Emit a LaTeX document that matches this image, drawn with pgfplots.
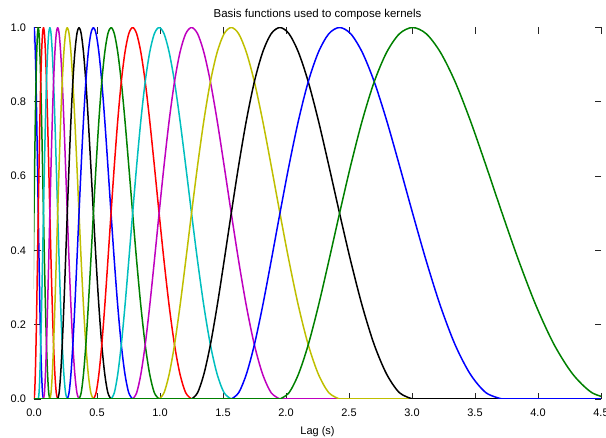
\documentclass[border=0pt]{standalone}
\usepackage{fontspec}
\setmainfont{Liberation Sans}
\usepackage{pgfplots}
\usepackage{pgfplotstable}
\pgfplotsset{compat=1.18}
\definecolor{mplb}{rgb}{0,0,1}
\definecolor{mplg}{rgb}{0,0.5,0}
\definecolor{mplr}{rgb}{1,0,0}
\definecolor{mplc}{rgb}{0,0.75,0.75}
\definecolor{mplm}{rgb}{0.75,0,0.75}
\definecolor{mply}{rgb}{0.75,0.75,0}
\definecolor{mplk}{rgb}{0,0,0}

% raised cosine bumps: one shared y column, lag values per basis function
\pgfplotstableread{
y     x0      x1      x2     x3     x4     x5     x6     x7     x8     x9     x10    x11    x12    x13    x14    x15
0     -0.0501 -0.0276 0      0.0338 0.0752 0.1258 0.1880 0.2641 0.3573 0.4715 0.6114 0.7829 0.9929 1.2503 1.5656 1.9519
0.017 -0.0466 -0.0234 0.0052 0.0401 0.0829 0.1353 0.1996 0.2783 0.3747 0.4929 0.6377 0.8150 1.0323 1.2985 1.6246 2.0242
0.067 -0.0431 -0.0190 0.0105 0.0466 0.0909 0.1452 0.2116 0.2931 0.3928 0.5150 0.6648 0.8482 1.0730 1.3484 1.6857 2.0991
0.146 -0.0394 -0.0145 0.0160 0.0534 0.0992 0.1553 0.2241 0.3083 0.4115 0.5379 0.6928 0.8826 1.1151 1.3999 1.7489 2.1765
0.25  -0.0356 -0.0098 0.0217 0.0604 0.1078 0.1658 0.2370 0.3241 0.4308 0.5616 0.7218 0.9181 1.1586 1.4533 1.8143 2.2566
0.371 -0.0316 -0.0050 0.0277 0.0677 0.1167 0.1767 0.2503 0.3404 0.4508 0.5861 0.7518 0.9549 1.2037 1.5085 1.8819 2.3394
0.5   -0.0276 0       0.0338 0.0752 0.1258 0.1880 0.2641 0.3573 0.4715 0.6114 0.7829 0.9929 1.2503 1.5656 1.9519 2.4251
0.629 -0.0234 0.0052  0.0401 0.0829 0.1353 0.1996 0.2783 0.3747 0.4929 0.6377 0.8150 1.0323 1.2985 1.6246 2.0242 2.5138
0.75  -0.0190 0.0105  0.0466 0.0909 0.1452 0.2116 0.2931 0.3928 0.5150 0.6648 0.8482 1.0730 1.3484 1.6857 2.0991 2.6055
0.854 -0.0145 0.0160  0.0534 0.0992 0.1553 0.2241 0.3083 0.4115 0.5379 0.6928 0.8826 1.1151 1.3999 1.7489 2.1765 2.7003
0.933 -0.0098 0.0217  0.0604 0.1078 0.1658 0.2370 0.3241 0.4308 0.5616 0.7218 0.9181 1.1586 1.4533 1.8143 2.2566 2.7985
0.983 -0.0050 0.0277  0.0677 0.1167 0.1767 0.2503 0.3404 0.4508 0.5861 0.7518 0.9549 1.2037 1.5085 1.8819 2.3394 2.8999
1     0       0.0338  0.0752 0.1258 0.1880 0.2641 0.3573 0.4715 0.6114 0.7829 0.9929 1.2503 1.5656 1.9519 2.4251 3.0050
0.983 0.0052  0.0401  0.0829 0.1353 0.1996 0.2783 0.3747 0.4929 0.6377 0.8150 1.0323 1.2985 1.6246 2.0242 2.5138 3.1136
0.933 0.0105  0.0466  0.0909 0.1452 0.2116 0.2931 0.3928 0.5150 0.6648 0.8482 1.0730 1.3484 1.6857 2.0991 2.6055 3.2259
0.854 0.0160  0.0534  0.0992 0.1553 0.2241 0.3083 0.4115 0.5379 0.6928 0.8826 1.1151 1.3999 1.7489 2.1765 2.7003 3.3421
0.75  0.0217  0.0604  0.1078 0.1658 0.2370 0.3241 0.4308 0.5616 0.7218 0.9181 1.1586 1.4533 1.8143 2.2566 2.7985 3.4623
0.629 0.0277  0.0677  0.1167 0.1767 0.2503 0.3404 0.4508 0.5861 0.7518 0.9549 1.2037 1.5085 1.8819 2.3394 2.8999 3.5867
0.5   0.0338  0.0752  0.1258 0.1880 0.2641 0.3573 0.4715 0.6114 0.7829 0.9929 1.2503 1.5656 1.9519 2.4251 3.0050 3.7153
0.371 0.0401  0.0829  0.1353 0.1996 0.2783 0.3747 0.4929 0.6377 0.8150 1.0323 1.2985 1.6246 2.0242 2.5138 3.1136 3.8484
0.25  0.0466  0.0909  0.1452 0.2116 0.2931 0.3928 0.5150 0.6648 0.8482 1.0730 1.3484 1.6857 2.0991 2.6055 3.2259 3.9860
0.146 0.0534  0.0992  0.1553 0.2241 0.3083 0.4115 0.5379 0.6928 0.8826 1.1151 1.3999 1.7489 2.1765 2.7003 3.3421 4.1284
0.067 0.0604  0.1078  0.1658 0.2370 0.3241 0.4308 0.5616 0.7218 0.9181 1.1586 1.4533 1.8143 2.2566 2.7985 3.4623 4.2757
0.017 0.0677  0.1167  0.1767 0.2503 0.3404 0.4508 0.5861 0.7518 0.9549 1.2037 1.5085 1.8819 2.3394 2.8999 3.5867 4.4281
0     0.0752  0.1258  0.1880 0.2641 0.3573 0.4715 0.6114 0.7829 0.9929 1.2503 1.5656 1.9519 2.4251 3.0050 3.7153 4.5857
}\basis

\begin{document}
\begin{tikzpicture}
\begin{axis}[
  scale only axis, width=567bp, height=371.5bp,
  xmin=0, xmax=4.5, ymin=0, ymax=1, enlargelimits=false,
  axis line style={draw=none},
  xtick={0,0.5,1,1.5,2,2.5,3,3.5,4,4.5},
  ytick={0,0.2,0.4,0.6,0.8,1},
  tick align=inside, major tick length=6.5bp,
  tick style={black!85, line width=0.9bp},
  /pgf/number format/assume math mode=true,
  /pgf/number format/fixed, /pgf/number format/fixed zerofill,
  /pgf/number format/precision=1,
  tick label style={font=\fontsize{11}{13}\selectfont},
  xticklabel style={yshift=-6bp},
  yticklabel style={xshift=-4.5bp},
  xlabel={Lag (s)},
  every axis x label/.style={at={(axis description cs:0.5,0)}, anchor=base, yshift=-35.5bp, font=\fontsize{11}{13}\selectfont},
  title={Basis functions used to compose kernels},
  every axis title/.style={at={(axis description cs:0.5,1)}, anchor=base, yshift=10bp, font=\fontsize{11.5}{14}\selectfont},
  every axis plot/.append style={line width=1.5bp, line join=round},
  zero/.style={forget plot, sharp plot},
]
\addplot[mplb, smooth] table[x=x0, y=y] {\basis};
\addplot[mplb, zero] coordinates {(0.0752,0) (4.5,0)};

\addplot[mplg, smooth] table[x=x1, y=y] {\basis};
\addplot[mplg, zero] coordinates {(0.1258,0) (4.5,0)};

\addplot[mplr, smooth] table[x=x2, y=y] {\basis};
\addplot[mplr, zero] coordinates {(0.1880,0) (4.5,0)};

\addplot[mplc, zero] coordinates {(0,0) (0.0338,0)};
\addplot[mplc, smooth] table[x=x3, y=y] {\basis};
\addplot[mplc, zero] coordinates {(0.2641,0) (4.5,0)};

\addplot[mplm, zero] coordinates {(0,0) (0.0752,0)};
\addplot[mplm, smooth] table[x=x4, y=y] {\basis};
\addplot[mplm, zero] coordinates {(0.3573,0) (4.5,0)};

\addplot[mply, zero] coordinates {(0,0) (0.1258,0)};
\addplot[mply, smooth] table[x=x5, y=y] {\basis};
\addplot[mply, zero] coordinates {(0.4715,0) (4.5,0)};

\addplot[mplk, zero] coordinates {(0,0) (0.1880,0)};
\addplot[mplk, smooth] table[x=x6, y=y] {\basis};
\addplot[mplk, zero] coordinates {(0.6114,0) (4.5,0)};

\addplot[mplb, zero] coordinates {(0,0) (0.2641,0)};
\addplot[mplb, smooth] table[x=x7, y=y] {\basis};
\addplot[mplb, zero] coordinates {(0.7829,0) (4.5,0)};

\addplot[mplg, zero] coordinates {(0,0) (0.3573,0)};
\addplot[mplg, smooth] table[x=x8, y=y] {\basis};
\addplot[mplg, zero] coordinates {(0.9929,0) (4.5,0)};

\addplot[mplr, zero] coordinates {(0,0) (0.4715,0)};
\addplot[mplr, smooth] table[x=x9, y=y] {\basis};
\addplot[mplr, zero] coordinates {(1.2503,0) (4.5,0)};

\addplot[mplc, zero] coordinates {(0,0) (0.6114,0)};
\addplot[mplc, smooth] table[x=x10, y=y] {\basis};
\addplot[mplc, zero] coordinates {(1.5656,0) (4.5,0)};

\addplot[mplm, zero] coordinates {(0,0) (0.7829,0)};
\addplot[mplm, smooth] table[x=x11, y=y] {\basis};
\addplot[mplm, zero] coordinates {(1.9519,0) (4.5,0)};

\addplot[mply, zero] coordinates {(0,0) (0.9929,0)};
\addplot[mply, smooth] table[x=x12, y=y] {\basis};
\addplot[mply, zero] coordinates {(2.4251,0) (4.5,0)};

\addplot[mplk, zero] coordinates {(0,0) (1.2503,0)};
\addplot[mplk, smooth] table[x=x13, y=y] {\basis};
\addplot[mplk, zero] coordinates {(3.0050,0) (4.5,0)};

\addplot[mplb, zero] coordinates {(0,0) (1.5656,0)};
\addplot[mplb, smooth] table[x=x14, y=y] {\basis};
\addplot[mplb, zero] coordinates {(3.7153,0) (4.5,0)};

\addplot[mplg, zero] coordinates {(0,0) (1.9519,0)};
\addplot[mplg, smooth] table[x=x15, y=y] {\basis};
\end{axis}
\pgfresetboundingbox
\useasboundingbox (-34bp,-39bp) rectangle (572bp,399bp);
\end{tikzpicture}
\end{document}
